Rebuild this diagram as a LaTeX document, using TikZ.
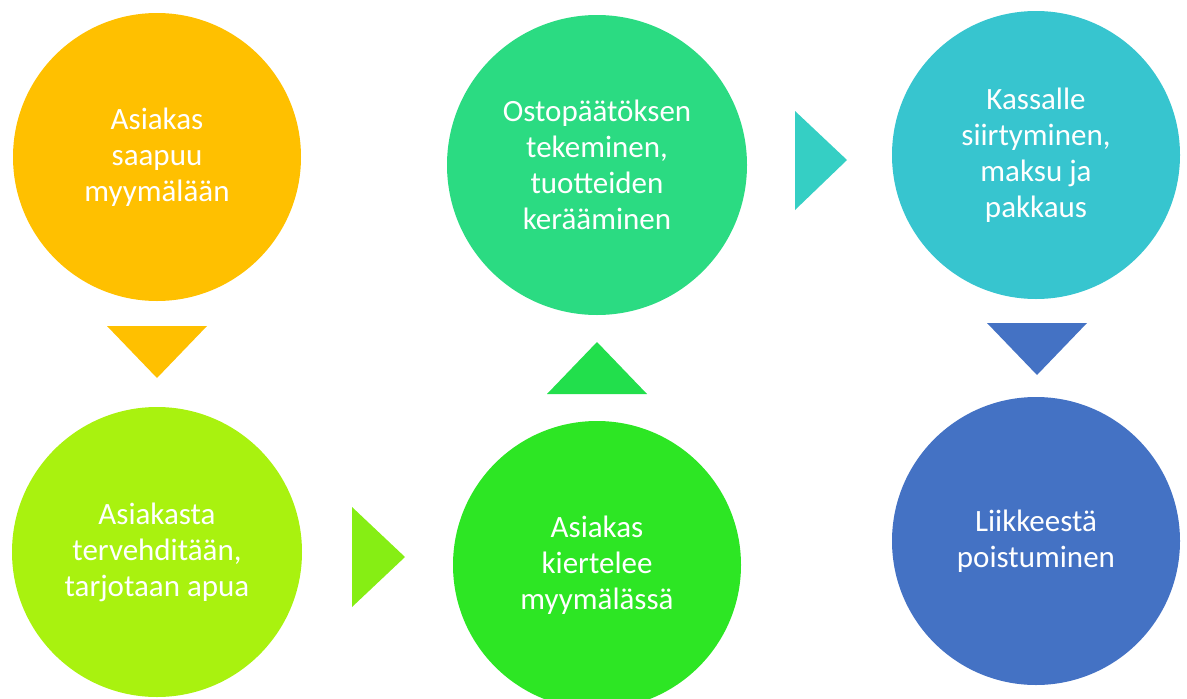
\documentclass[tikz,border=0pt]{standalone}
\usepackage{fontspec}
\setmainfont{Carlito}
\usepackage{tikz}

\definecolor{gold}{HTML}{FFC000}
\definecolor{lime}{HTML}{A9F20F}
\definecolor{limetri}{HTML}{86EE14}
\definecolor{grass}{HTML}{2DE624}
\definecolor{grasstri}{HTML}{22DF4C}
\definecolor{mint}{HTML}{2BDB82}
\definecolor{tealtri}{HTML}{35CFC4}
\definecolor{teal}{HTML}{37C5CF}
\definecolor{navy}{HTML}{4472C4}

\begin{document}
\begin{tikzpicture}[x=1pt, y=-1pt,
        phase/.style = {circle, minimum size=288pt, inner sep=0pt, text=white, align=center,
                        font=\fontsize{31}{36}\selectfont}]
            \useasboundingbox (0,0) rectangle (1187,699);

            \node[phase, fill=gold]  (A) at (157,157)  {Asiakas\\saapuu\\myymälään};
            \node[phase, fill=lime, minimum size=290pt]  (B) at (157,552)  {Asiakasta\\tervehditään,\\tarjotaan apua};
            \node[phase, fill=grass] (C) at (597,565)  {Asiakas\\kiertelee\\myymälässä};
            \node[phase, fill=mint, minimum size=300pt]  (D) at (597,165)  {Ostopäätöksen\\tekeminen,\\tuotteiden\\kerääminen};
            \node[phase, fill=teal]  (E) at (1036,155) {Kassalle\\siirtyminen,\\maksu ja\\pakkaus};
            \node[phase, fill=navy]  (F) at (1036,541) {Liikkeestä\\poistuminen};

            % arrows between the phases
            \coordinate (AB) at (157,352);
            \coordinate (BC) at (378,557);
            \coordinate (CD) at (597,368);
            \coordinate (DE) at (821,160);
            \coordinate (EF) at (1037,349);

            \fill[gold]     (AB) +(-50,-26) -- +(50,-26) -- +(0,26) -- cycle;
            \fill[limetri]  (BC) +(-26,-50) -- +(-26,50) -- +(27,0) -- cycle;
            \fill[grasstri] (CD) +(-50,26) -- +(50,26) -- +(0,-26) -- cycle;
            \fill[tealtri]  (DE) +(-26,-49) -- +(-26,50) -- +(26,0) -- cycle;
            \fill[navy]     (EF) +(-50,-26) -- +(50,-26) -- +(0,26) -- cycle;
\end{tikzpicture}
\end{document}
